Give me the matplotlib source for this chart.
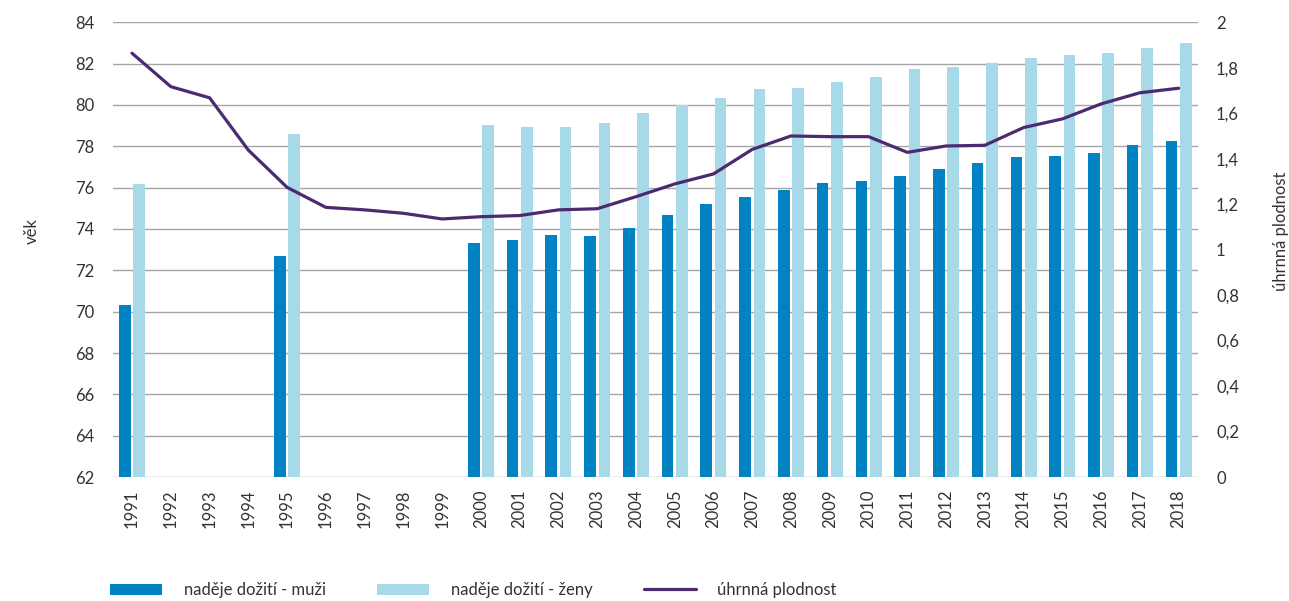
import numpy as np
import matplotlib
matplotlib.use("Agg")
import matplotlib.pyplot as plt
from matplotlib.ticker import FuncFormatter

plt.rcParams['font.family'] = ['Lato', 'DejaVu Sans']

years = list(range(1991, 2019))
nan = np.nan

# nadeje doziti - muzi
men = [70.3, nan, nan, nan, 72.7, nan, nan, nan, nan,
       73.3, 73.46, 73.7, 73.68, 74.05, 74.67, 75.2, 75.57, 75.89, 76.22,
       76.31, 76.54, 76.88, 77.2, 77.46, 77.54, 77.7, 78.07, 78.25]

# nadeje doziti - zeny
women = [76.18, nan, nan, nan, 78.6, nan, nan, nan, nan,
         79.03, 78.94, 78.94, 79.14, 79.59, 79.99, 80.35, 80.76, 80.82, 81.09,
         81.37, 81.74, 81.85, 82.03, 82.29, 82.4, 82.5, 82.76, 82.98]

# uhrnna plodnost
fert = [1.864, 1.717, 1.668, 1.438, 1.274, 1.186, 1.175, 1.16, 1.135,
        1.145, 1.15, 1.175, 1.18, 1.233, 1.289, 1.333, 1.441, 1.50, 1.497,
        1.497, 1.428, 1.456, 1.459, 1.537, 1.575, 1.641, 1.69, 1.71]

c_men = '#0082c3'
c_women = '#a8d9e8'
c_line = '#4b2a70'
c_text = '#333333'
c_grid = '#a6a6a6'

fig = plt.figure(figsize=(12.89, 6.01), dpi=100)
ax = fig.add_axes([0.0874, 0.2063, 0.8420, 0.7566])
ax2 = ax.twinx()

x = np.arange(len(years))
w = 0.30
off = 0.185
ax.bar(x - off, men, width=w, color=c_men, zorder=2,
       label='naděje dožití - muži')
ax.bar(x + off, women, width=w, color=c_women, zorder=2,
       label='naděje dožití - ženy')
ax2.plot(x, fert, color=c_line, lw=2.3, solid_capstyle='round',
         label='úhrnná plodnost', zorder=3)

ax.set_ylim(62, 84)
ax.set_yticks(np.arange(62, 85, 2))
ax2.set_ylim(0, 2)
ax2.set_yticks(np.arange(0, 2.01, 0.2))
ax2.yaxis.set_major_formatter(FuncFormatter(
    lambda v, p: ('%g' % round(v, 1)).replace('.', ',')))
ax.set_xlim(-0.5, len(years) - 0.5)
ax.set_xticks(x)
ax.set_xticklabels([str(y) for y in years], rotation=90)

ax.grid(axis='y', color=c_grid, lw=1, zorder=0)
ax.set_axisbelow(True)
for a in (ax, ax2):
    for s in a.spines.values():
        s.set_visible(False)
ax.tick_params(axis='both', length=0, labelsize=12, colors=c_text)
ax.tick_params(axis='y', pad=13)
ax.tick_params(axis='x', pad=9)
ax2.tick_params(axis='y', length=0, labelsize=12, colors=c_text, pad=13)

ax.set_ylabel('věk', fontsize=12, color=c_text)
ax.yaxis.set_label_coords(-0.067, 0.54)
ax2.set_ylabel('úhrnná plodnost', fontsize=12, color=c_text)
ax2.yaxis.set_label_coords(1.069, 0.54)

h1, l1 = ax.get_legend_handles_labels()
h2, l2 = ax2.get_legend_handles_labels()
leg = fig.legend(h1 + h2, l1 + l2, loc='center left', ncol=3,
                 bbox_to_anchor=(0.074, 0.018), frameon=False, fontsize=12,
                 handlelength=3.1, handleheight=0.7, handletextpad=1.3,
                 columnspacing=3.1)
for t in leg.get_texts():
    t.set_color(c_text)

fig.savefig('out.png', dpi=100)
